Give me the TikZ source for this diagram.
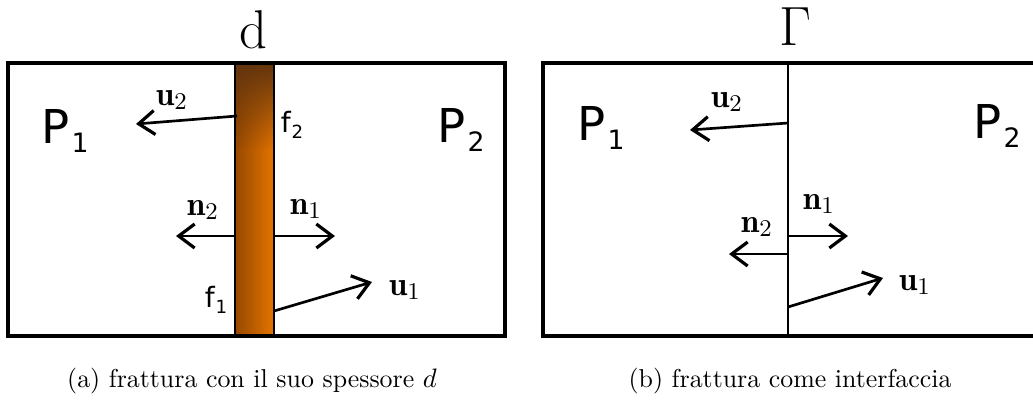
\documentclass[tikz,border=0pt]{standalone}
\usepackage{fontspec}
\setsansfont{DejaVu Sans}
\usetikzlibrary{arrows.meta,fadings}
\tikzfading[name=fade down, top color=transparent!0, bottom color=transparent!100]
\newcommand{\Pdom}[1]{{\fontsize{17.5}{20}\selectfont\sffamily P\kern0.8pt\raisebox{-3.4pt}{\fontsize{10}{11}\selectfont #1}}}
\newcommand{\fside}[1]{{\fontsize{10.5}{12}\selectfont\sffamily f\kern0.3pt\raisebox{-2.2pt}{\fontsize{6.8}{8}\selectfont #1}}}

\begin{document}
\begin{tikzpicture}[x=0.375pt,y=-0.375pt,every node/.style={inner sep=0pt}]
	% Define colors
	\definecolor{stripleft}{RGB}{150, 72, 0}
	\definecolor{stripright}{RGB}{228, 116, 0}
	\definecolor{striptop}{RGB}{98, 52, 14}

	% Styles
	\tikzstyle{domain_box} = [draw=black, line width=1.2pt]
	\tikzstyle{vec_arrow} = [-{Straight Barb[length=6pt,width=9pt,line width=1.2pt]}, line width=1pt, black]
	\tikzstyle{vec_label} = [font=\fontsize{12.5}{14}\selectfont]
	\tikzstyle{top_label} = [font=\fontsize{20.5}{24}\selectfont]
	\tikzstyle{caption} = [font=\fontsize{9.7}{12}\selectfont]

	\useasboundingbox (0,0) rectangle (1033,399);
	\clip (0,0) rectangle (1033,399);

	% (a) fracture with thickness
	\fill[left color=stripleft, right color=stripright] (235,63) rectangle (274,336);
	\fill[striptop, path fading=fade down] (235,63) rectangle (274,150);
	\draw[line width=0.5pt] (235,63) -- (235,336) (274,63) -- (274,336);
	\draw[domain_box] (8,63) rectangle (505,336);

	\node (dlabel) [top_label] at (253,30) {d};
	\node (pa1) at (65,131) {\Pdom{1}};
	\node (pa2) at (461,130) {\Pdom{2}};
	\node (fa2) at (292,125) {\fside{2}};
	\node (fa1) at (216,300) {\fside{1}};

	\coordinate (ua2s) at (237,116);
	\coordinate (ua2e) at (136,124);
	\coordinate (na2s) at (235,236);
	\coordinate (na2e) at (176,236);
	\coordinate (na1s) at (274,236);
	\coordinate (na1e) at (335,236);
	\coordinate (ua1s) at (274,311);
	\coordinate (ua1e) at (372,282);

	\draw[vec_arrow] (ua2s) -- (ua2e);
	\draw[vec_arrow] (na2s) -- (na2e);
	\draw[vec_arrow] (na1s) -- (na1e);
	\draw[vec_arrow] (ua1s) -- (ua1e);

	\node (ua2) [vec_label] at (172,100) {$\mathbf{u}_2$};
	\node (na2) [vec_label] at (203,210) {$\mathbf{n}_2$};
	\node (na1) [vec_label] at (306,209) {$\mathbf{n}_1$};
	\node (ua1) [vec_label] at (405,290) {$\mathbf{u}_1$};

	% (b) fracture as interface
	\draw[domain_box] (543,63) rectangle (1045,336);
	\draw[line width=0.9pt] (788,63) -- (788,336);

	\node (glabel) [top_label] at (795,27) {$\Gamma$};
	\node (pb1) at (601,128) {\Pdom{1}};
	\node (pb2) at (997,126) {\Pdom{2}};

	\coordinate (ub2s) at (788,123);
	\coordinate (ub2e) at (690,130);
	\coordinate (nb1s) at (788,236);
	\coordinate (nb1e) at (848,236);
	\coordinate (nb2s) at (788,254);
	\coordinate (nb2e) at (729,254);
	\coordinate (ub1s) at (788,307);
	\coordinate (ub1e) at (883,278);

	\draw[vec_arrow] (ub2s) -- (ub2e);
	\draw[vec_arrow] (nb1s) -- (nb1e);
	\draw[vec_arrow] (nb2s) -- (nb2e);
	\draw[vec_arrow] (ub1s) -- (ub1e);

	\node (ub2) [vec_label] at (727,102) {$\mathbf{u}_2$};
	\node (nb1) [vec_label] at (819,204) {$\mathbf{n}_1$};
	\node (nb2) [vec_label] at (757,227) {$\mathbf{n}_2$};
	\node (ub1) [vec_label] at (915,285) {$\mathbf{u}_1$};

	% Captions
	\node (capa) [caption] at (252,381) {(a) frattura con il suo spessore $d$};
	\node (capb) [caption] at (790,381) {(b) frattura come interfaccia};
\end{tikzpicture}
\end{document}
